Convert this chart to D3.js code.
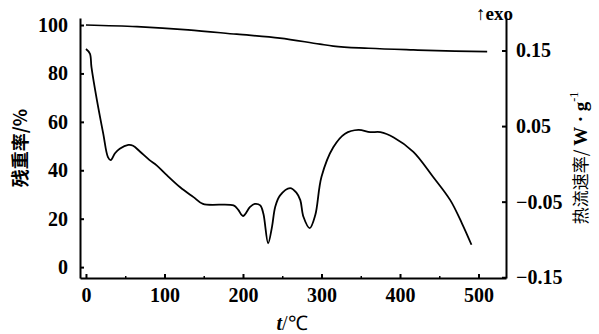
<!DOCTYPE html>
<html>
<head>
<meta charset="utf-8">
<script src="https://cdn.jsdelivr.net/npm/d3@7"></script>
<style>
  body { margin: 0; background: #fff; }
</style>
</head>
<body>
<div id="canvas"></div>
<script>
// x axis ticks (t / ℃)
const xTicks = [0, 100, 200, 300, 400, 500];
const xMinorTicks = [50, 150, 250, 350, 450];
const leftTicks = [0, 20, 40, 60, 80, 100];
const rightTicks = [-0.15, -0.05, 0.05, 0.15];

// TG curve : residual weight %
const tgTemp = [0, 65, 130, 192, 247, 298, 315, 360, 417, 470, 511];
const tgMass = [100, 99.3, 98.0, 96.2, 94.6, 92.1, 91.3, 90.4, 89.7, 89.2, 89.0];

// DSC curve : heat flow W/g
const dscTemp = [0, 5, 7, 14, 22, 28, 31.5, 37, 43, 54, 60, 69, 81, 90, 103, 120, 137, 149,
  188, 194, 200, 209, 215, 222, 226, 232, 237, 241, 247, 260, 268, 273, 277, 285, 292,
  300, 315, 330, 347, 362, 375, 392, 417, 442, 464, 479, 491];
const dscFlow = [0.152, 0.146, 0.128, 0.084, 0.040, 0.009, 0.005, 0.014, 0.020, 0.025, 0.024,
  0.016, 0.005, -0.002, -0.015, -0.031, -0.044, -0.053, -0.055, -0.061, -0.069, -0.057,
  -0.053, -0.055, -0.066, -0.105, -0.083, -0.057, -0.042, -0.032, -0.038, -0.048, -0.070,
  -0.085, -0.068, -0.017, 0.022, 0.040, 0.045, 0.042, 0.042, 0.035, 0.016, -0.017,
  -0.048, -0.079, -0.107];

const W = 599, H = 334;
const serif = "'Liberation Serif', 'Times New Roman', Times, serif";
const svg = d3.select("#canvas").append("svg")
  .attr("width", W).attr("height", H);

// scales
const xScale = d3.scaleLinear().domain([-7.6, 535]).range([80, 506]);
const yLeft = d3.scaleLinear().domain([-4.5, 102.9]).range([278, 18]);
const yRight = d3.scaleLinear().domain([-0.151, 0.193]).range([278, 18]);

// x axis minor ticks
svg.append("g")
  .attr("transform", "translate(0," + 278 + ")")
  .call(d3.axisBottom(xScale).tickValues(xMinorTicks).tickSizeInner(-2).tickSizeOuter(0).tickFormat(""))
  .call(g => g.select(".domain").remove())
  .call(g => g.selectAll(".tick line").attr("stroke", "#000").attr("stroke-width", 1.5));

// x axis
const gx = svg.append("g")
  .attr("transform", "translate(0," + 278 + ")")
  .call(d3.axisBottom(xScale).tickValues(xTicks).tickSizeInner(-4).tickSizeOuter(0).tickPadding(10));

// left axis
const gl = svg.append("g")
  .attr("transform", "translate(80,0)")
  .call(d3.axisLeft(yLeft).tickValues(leftTicks).tickSizeInner(-4).tickSizeOuter(0).tickPadding(12));

// right axis
const gr = svg.append("g")
  .attr("transform", "translate(506,0)")
  .call(d3.axisRight(yRight).tickValues(rightTicks).tickSizeInner(-4).tickSizeOuter(0).tickPadding(10)
    .tickFormat(d => d3.format(".2f")(d)));

[gx, gl, gr].forEach(g => {
  g.attr("font-family", serif);
  g.select(".domain").attr("stroke", "#000").attr("stroke-width", 2);
  g.selectAll(".tick line").attr("stroke", "#000").attr("stroke-width", 2);
  g.selectAll(".tick text")
    .attr("fill", "#000")
    .style("font-family", serif)
    .style("font-weight", "bold")
    .style("font-size", "20px");
});

// curves
const tgLine = d3.line()
  .x((d, i) => xScale(tgTemp[i]))
  .y(d => yLeft(d))
  .curve(d3.curveMonotoneX);
svg.append("path")
  .attr("d", tgLine(tgMass))
  .attr("fill", "none").attr("stroke", "#000").attr("stroke-width", 1.7);

const dscLine = d3.line()
  .x((d, i) => xScale(dscTemp[i]))
  .y(d => yRight(d))
  .curve(d3.curveCatmullRom.alpha(0.5));
svg.append("path")
  .attr("d", dscLine(dscFlow))
  .attr("fill", "none").attr("stroke", "#000").attr("stroke-width", 1.8);

// titles
svg.append("text")
  .attr("transform", "translate(27,148) rotate(-90)")
  .attr("text-anchor", "middle")
  .style("font-family", "'Noto Sans CJK SC'")
  .style("font-weight", "bold")
  .style("font-size", "18px")
  .text("残重率/%");

const rt = svg.append("text")
  .attr("transform", "translate(587,158) rotate(-90)")
  .attr("text-anchor", "middle")
  .style("font-family", "'Noto Sans CJK SC'")
  .style("font-size", "17px");
rt.append("tspan").text("热流速率/ ");
rt.append("tspan").style("font-family", serif).style("font-weight", "bold").style("font-size", "19px").text("W · g");
rt.append("tspan").style("font-family", serif).style("font-size", "12px").attr("dy", -9).text("-1");

const xt = svg.append("text")
  .attr("x", 292).attr("y", 330)
  .attr("text-anchor", "middle")
  .style("font-family", serif)
  .style("font-size", "20px");
xt.append("tspan").style("font-style", "italic").style("font-weight", "bold").text("t");
xt.append("tspan").text("/℃");

// exo marker
svg.append("text")
  .attr("x", 476).attr("y", 20)
  .style("font-family", serif)
  .style("font-weight", "bold")
  .style("font-size", "19px")
  .text("↑exo");
</script>
</body>
</html>
